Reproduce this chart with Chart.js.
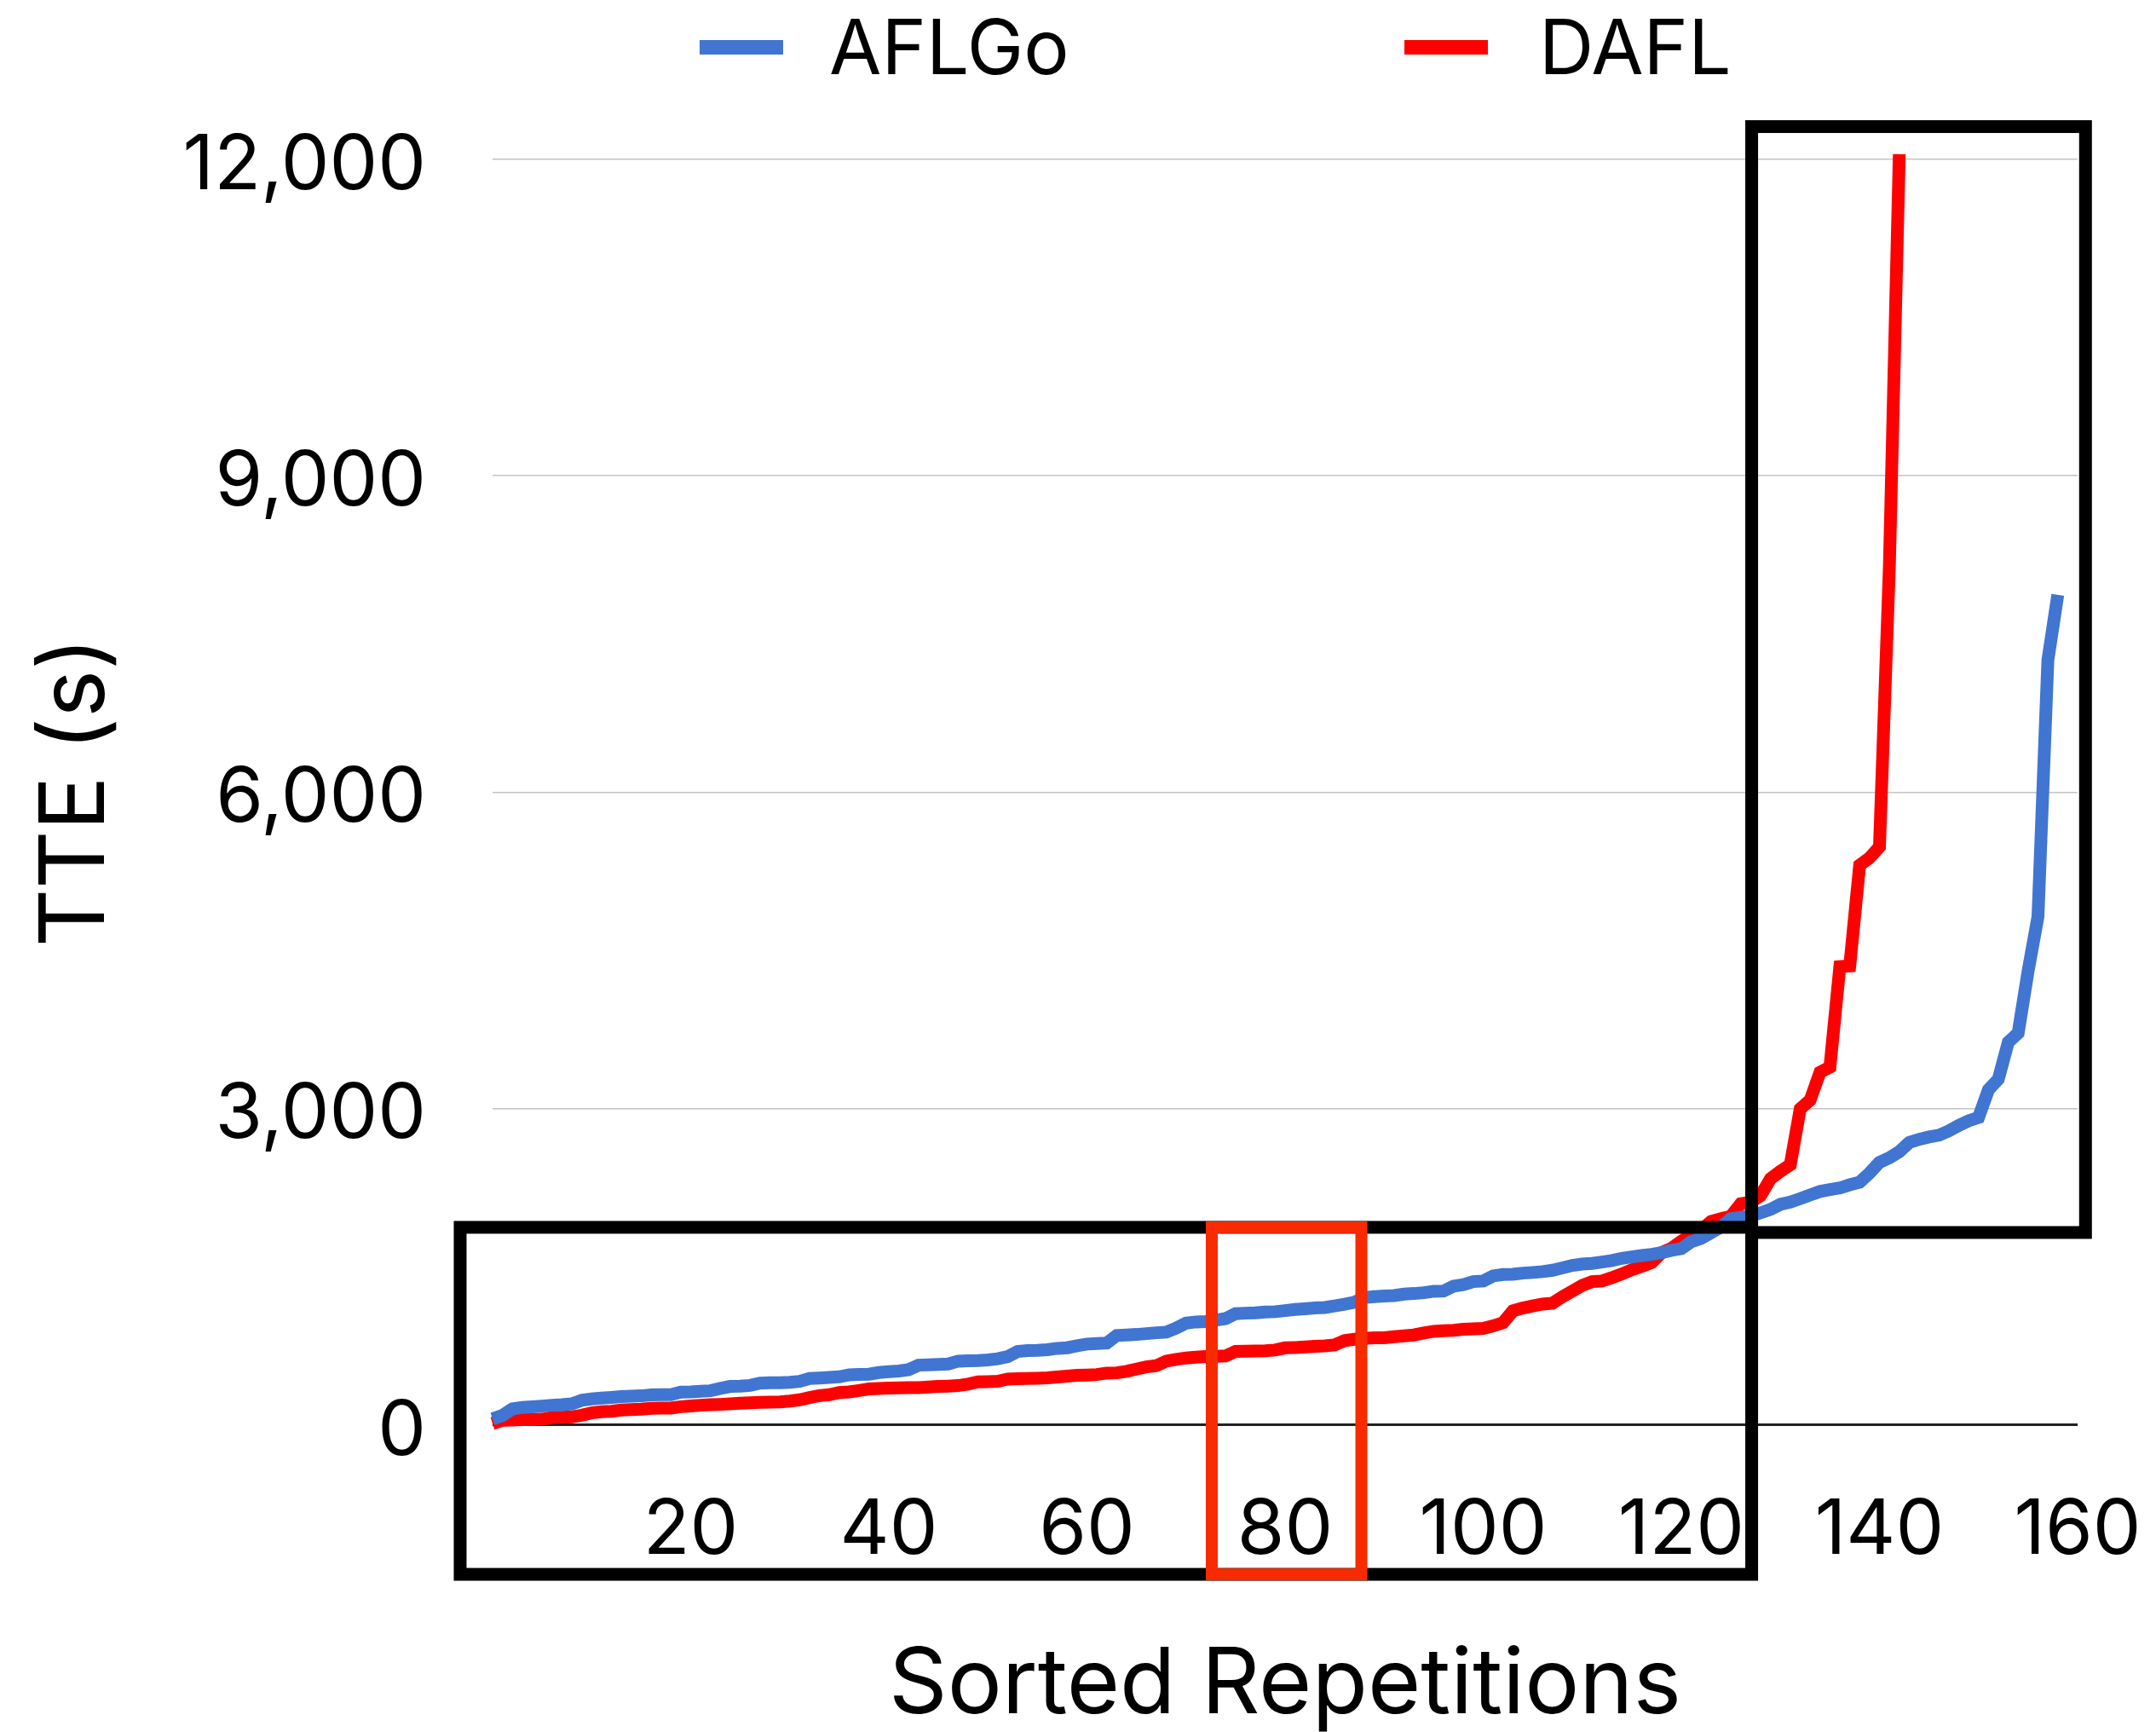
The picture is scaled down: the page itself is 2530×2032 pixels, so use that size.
<!DOCTYPE html>
<html>
<head>
<meta charset="utf-8">
<script src="https://cdn.jsdelivr.net/npm/chart.js@4.4.1/dist/chart.umd.min.js"></script>
<style>
  html, body { margin: 0; padding: 0; background: #fff; }
  #contenedor { width: 2530px; height: 2032px; position: relative; }
</style>
</head>
<body>
<div id="contenedor"><canvas id="grafico"></canvas></div>
<script>
// TTE (s) per sorted repetition
const aflgoTte = [
  55, 88, 150, 163, 169, 177, 185, 190, 198, 231,
  244, 252, 258, 266, 271, 274, 282, 285, 285, 309,
  311, 317, 322, 344, 363, 365, 373, 395, 398, 398,
  403, 411, 438, 443, 449, 454, 473, 476, 479, 495,
  503, 509, 522, 565, 568, 571, 576, 603, 606, 608,
  614, 625, 646, 695, 703, 705, 711, 724, 730, 749,
  765, 770, 775, 846, 851, 856, 864, 872, 878, 916,
  964, 975, 978, 991, 1007, 1053, 1058, 1061, 1069, 1072,
  1082, 1093, 1099, 1107, 1112, 1126, 1142, 1161, 1206, 1215,
  1220, 1225, 1239, 1244, 1252, 1266, 1268, 1314, 1328, 1357,
  1363, 1411, 1425, 1427, 1438, 1444, 1452, 1465, 1487, 1511,
  1524, 1530, 1543, 1557, 1578, 1592, 1605, 1616, 1632, 1654,
  1670, 1735, 1767, 1821, 1875, 1953, 1966, 1982, 2009, 2042,
  2090, 2112, 2144, 2179, 2212, 2230, 2245, 2275, 2300, 2387,
  2488, 2531, 2589, 2676, 2707, 2729, 2746, 2786, 2838, 2882,
  2913, 3176, 3277, 3627, 3715, 4300, 4819, 7252, 7870
];
const daflTte = [
  12, 42, 45, 48, 50, 52, 68, 70, 74, 90,
  112, 123, 128, 139, 144, 147, 155, 158, 158, 171,
  177, 185, 190, 193, 198, 204, 209, 212, 214, 217,
  225, 236, 258, 276, 285, 306, 311, 325, 339, 344,
  347, 350, 352, 352, 358, 363, 366, 371, 385, 406,
  409, 412, 433, 436, 439, 441, 444, 452, 460, 468,
  471, 476, 490, 492, 506, 528, 549, 560, 603, 619,
  633, 641, 646, 649, 652, 695, 697, 700, 702, 708,
  729, 732, 737, 743, 748, 756, 797, 810, 818, 824,
  824, 834, 843, 851, 870, 886, 891, 896, 905, 910,
  913, 937, 967, 1080, 1107, 1126, 1144, 1153, 1214, 1268,
  1322, 1357, 1363, 1395, 1430, 1470, 1503, 1538, 1632, 1672,
  1740, 1799, 1848, 1928, 1955, 1977, 2096, 2110, 2173, 2333,
  2403, 2466, 2995, 3078, 3343, 3392, 4345, 4352, 5306, 5376,
  5480, 8140, 12050
];
const nombresSeries = ['AFLGo', 'DAFL'];
const coloresSeries = ['#4075D2', '#FF0000'];
const ticksX = [20, 40, 60, 80, 100, 120, 140, 160];
const ticksY = [0, 3000, 6000, 9000, 12000];

const fuente = 'Inter, "Noto Sans", sans-serif';

function aPuntos(valores) {
  return valores.map((v, i) => ({ x: i, y: v }));
}

// Leyenda y recuadros de resaltado dibujados a mano
const plugLeyendaRecuadros = {
  id: 'leyendaRecuadros',
  afterDraw(chart) {
    const ctx = chart.ctx;
    const sx = chart.scales.x;
    const sy = chart.scales.y;

    // recuadros (en unidades de datos)
    const recuadros = [
      { x0: -3.27, x1: 127.1, y0: 1872, y1: -1419, color: '#000000', ancho: 15 },
      { x0: 127.1, x1: 160.8, y0: 12311, y1: 1823, color: '#000000', ancho: 15 },
      { x0: 72.6, x1: 87.7, y0: 1872, y1: -1419, color: '#F72A00', ancho: 14 }
    ];
    ctx.save();
    ctx.lineJoin = 'miter';
    recuadros.forEach(r => {
      const l = sx.getPixelForValue(r.x0);
      const rr = sx.getPixelForValue(r.x1);
      const t = sy.getPixelForValue(r.y0);
      const b = sy.getPixelForValue(r.y1);
      ctx.strokeStyle = r.color;
      ctx.lineWidth = r.ancho;
      ctx.strokeRect(l, t, rr - l, b - t);
    });

    // leyenda
    const items = [
      { caja: 821, texto: 973 },
      { caja: 1648, texto: 1806 }
    ];
    ctx.font = '89px ' + fuente;
    ctx.textBaseline = 'middle';
    ctx.textAlign = 'left';
    chart.data.datasets.forEach((ds, i) => {
      ctx.fillStyle = ds.borderColor;
      ctx.fillRect(items[i].caja, 47, 98, 17);
      ctx.fillStyle = '#000';
      ctx.fillText(ds.label, items[i].texto, 60);
    });
    ctx.restore();
  }
};

const ctx = document.getElementById('grafico').getContext('2d');

const graficoActual = new Chart(ctx, {
  type: 'line',
  data: {
    datasets: [
      {
        label: nombresSeries[0],
        data: aPuntos(aflgoTte),
        borderColor: coloresSeries[0],
        backgroundColor: coloresSeries[0],
        borderWidth: 15,
        pointRadius: 0,
        tension: 0,
        borderJoinStyle: 'miter',
        borderCapStyle: 'butt',
        clip: false
      },
      {
        label: nombresSeries[1],
        data: aPuntos(daflTte),
        borderColor: coloresSeries[1],
        backgroundColor: coloresSeries[1],
        borderWidth: 15,
        pointRadius: 0,
        tension: 0,
        borderJoinStyle: 'miter',
        borderCapStyle: 'butt',
        clip: false
      }
    ]
  },
  options: {
    responsive: true,
    maintainAspectRatio: false,
    animation: false,
    devicePixelRatio: 1,
    layout: { padding: { top: 187, right: 92, left: 0, bottom: 0 } },
    plugins: {
      legend: { display: false },
      tooltip: { enabled: false }
    },
    scales: {
      x: {
        type: 'linear',
        min: 0,
        max: 160,
        afterBuildTicks: (escala) => { escala.ticks = ticksX.map(v => ({ value: v })); },
        afterFit: (escala) => {
          escala.height = 360.5;
          escala.paddingLeft = 0;
          escala.paddingRight = 0;
        },
        grid: { display: false, drawTicks: false },
        border: { display: false },
        ticks: {
          color: '#000',
          font: { family: fuente, size: 90 },
          padding: 70,
          maxRotation: 0,
          autoSkip: false
        },
        title: {
          display: true,
          text: 'Sorted Repetitions',
          color: '#000',
          font: { family: fuente, size: 107, lineHeight: 1 },
          padding: { top: 0, bottom: 1 }
        }
      },
      y: {
        min: 0,
        max: 12000,
        afterBuildTicks: (escala) => { escala.ticks = ticksY.map(v => ({ value: v })); },
        afterFit: (escala) => { escala.width = 578; },
        grid: {
          drawTicks: false,
          color: (c) => c.tick && c.tick.value === 0 ? '#222222' : '#C4C4C4',
          lineWidth: (c) => c.tick && c.tick.value === 0 ? 3 : 1.5
        },
        border: { display: false },
        ticks: {
          color: '#000',
          font: { family: fuente, size: 90 },
          padding: 78,
          labelOffset: 8,
          callback: (v) => v.toLocaleString('en-US')
        },
        title: {
          display: true,
          text: 'TTE (s)',
          color: '#000',
          font: { family: fuente, size: 106, lineHeight: 1 },
          padding: { top: 37, bottom: 0 }
        }
      }
    }
  },
  plugins: [plugLeyendaRecuadros]
});
</script>
</body>
</html>
